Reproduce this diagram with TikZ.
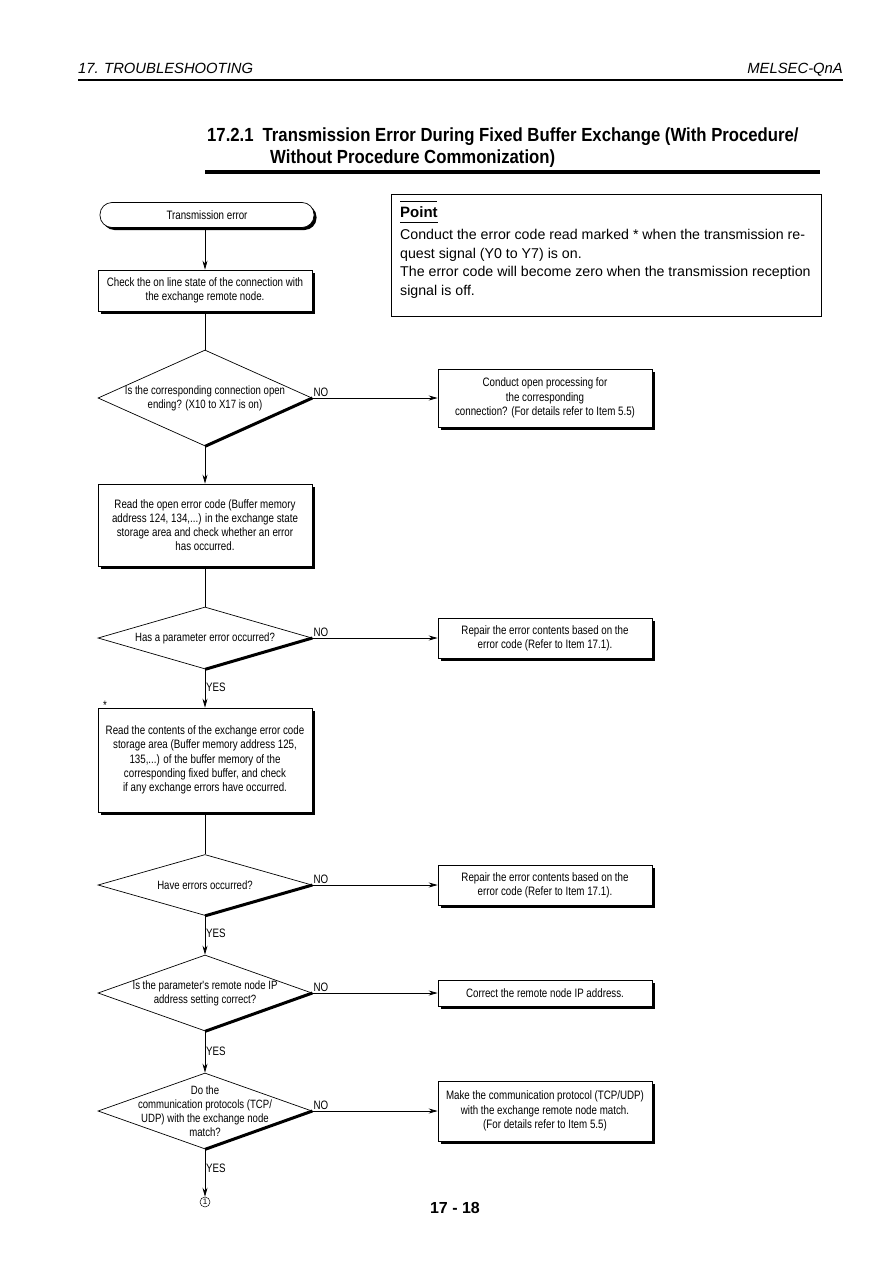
\documentclass[tikz,border=0pt]{standalone}
\usepackage{fontspec}
\setmainfont{Liberation Sans}
\newfontfamily\narrowfont[FakeStretch=0.80]{Liberation Sans}
\newfontfamily\titlefont[FakeStretch=0.88]{Liberation Sans}
\usetikzlibrary{shapes.geometric,arrows.meta,shadows}
\begin{document}
\begin{tikzpicture}[x=1pt,y=-1pt,
  box/.style={draw,line width=0.7pt,fill=white,inner sep=2pt,align=center,
    font=\narrowfont\fontsize{12.2}{14.2}\selectfont,
    drop shadow={shadow xshift=2.5pt,shadow yshift=-2.5pt,opacity=1,fill=black}},
  term/.style={box,rounded corners=12pt},
  dia/.style={draw,line width=0.7pt,diamond,inner sep=0pt},
  dtext/.style={align=center,font=\narrowfont\fontsize{12}{14.2}\selectfont,inner sep=0pt},
  dshadow/.style={line width=3pt},
  arr/.style={line width=0.7pt,-{Stealth[length=9pt,width=5pt]}},
  ln/.style={line width=0.7pt},
  lab/.style={font=\narrowfont\fontsize{12.2}{14}\selectfont,inner sep=1pt}
]
\useasboundingbox (0,0) rectangle (893,1263);
\fill[white] (0,0) rectangle (893,1263);

% header
\node[anchor=base west,inner sep=0,font=\itshape\fontsize{14.8}{16}\selectfont] (hl) at (78,74) {17. TROUBLESHOOTING};
\node[anchor=base east,inner sep=0,font=\itshape\fontsize{14.8}{16}\selectfont] (hr) at (843,74) {MELSEC-QnA};
\draw[line width=1.5pt] (78,80) coordinate (h1) -- (843,80) coordinate (h2);

% title
\node[anchor=base west,inner sep=0,font=\titlefont\bfseries\fontsize{19}{21}\selectfont] (t1) at (207,141) {17.2.1\hspace{9pt}Transmission Error During Fixed Buffer Exchange (With Procedure/};
\node[anchor=base west,inner sep=0,font=\titlefont\bfseries\fontsize{19}{21}\selectfont] (t2) at (270,163) {Without Procedure Commonization)};
\draw[line width=3.5pt] (205,172) coordinate (r1) -- (820,172) coordinate (r2);

% point box
\node[draw,line width=0.8pt,minimum width=430,minimum height=122,anchor=north west,inner sep=0] (pt) at (391,194) {};
\draw[line width=0.6pt] (400,201) coordinate (p1) -- (437,201) coordinate (p2);
\node[anchor=base west,inner sep=0,font=\bfseries\fontsize{15}{16}\selectfont] (ptt) at (400,217) {Point};
\draw[line width=0.8pt] (400,222) coordinate (p3) -- (438,222) coordinate (p4);
\node[anchor=north west,inner sep=0,align=left,font=\fontsize{14.2}{18.7}\selectfont] (ptx) at (400,229)
  {Conduct the error code read marked * when the transmission re-\\
   quest signal (Y0 to Y7) is on.\\
   The error code will become zero when the transmission reception\\
   signal is off.};

% start
\node[term,minimum width=214,minimum height=25] (s) at (207,215) {Transmission error};

% box 1
\node[box,minimum width=214,minimum height=41] (b1) at (205,290.5)
  {Check the on line state of the connection with\\the exchange remote node.};
\draw[arr] (205,228) coordinate (s1) -- (b1.north);

% D1
\node[dia,minimum width=214,minimum height=96] (d1) at (205,398) {};
\node[dtext] (d1t) at (205,398) {Is the corresponding connection open\\ending? (X10 to X17 is on)};
\draw[dshadow] (d1.east) -- (d1.south);
\draw[ln] (b1.south) -- (d1.north);
\node[box,minimum width=214,minimum height=58] (n1) at (545,398)
  {Conduct open processing for\\the corresponding\\connection? (For details refer to Item 5.5)};
\draw[arr] (d1.east) -- (n1.west);
\node[lab,anchor=south west] (no1) at (d1.east) {NO};

% box 2
\node[box,minimum width=214,minimum height=82] (b2) at (205,525)
  {Read the open error code (Buffer memory\\address 124, 134,...) in the exchange state\\storage area and check whether an error\\has occurred.};
\draw[arr] (d1.south) -- (b2.north);

% D2
\node[dia,minimum width=214,minimum height=62] (d2) at (205,638) {};
\node[dtext] (d2t) at (205,638) {Has a parameter error occurred?};
\draw[dshadow] (d2.east) -- (d2.south);
\draw[ln] (b2.south) -- (d2.north);
\node[box,minimum width=214,minimum height=40] (n2) at (545,638)
  {Repair the error contents based on the\\error code (Refer to Item 17.1).};
\draw[arr] (d2.east) -- (n2.west);
\node[lab,anchor=south west] (no2) at (d2.east) {NO};

% box 3
\node[box,minimum width=214,minimum height=104] (b3) at (205,760)
  {Read the contents of the exchange error code\\storage area (Buffer memory address 125,\\135,...) of the buffer memory of the\\corresponding fixed buffer, and check\\if any exchange errors have occurred.};
\draw[arr] (d2.south) -- (b3.north);
\node[lab,anchor=west] (y2) at (205,687) {YES};
\node[lab,anchor=south] (star) at (105,711) {*};

% D3
\node[dia,minimum width=214,minimum height=61] (d3) at (205,885) {};
\node[dtext] (d3t) at (205,885) {Have errors occurred?};
\draw[dshadow] (d3.east) -- (d3.south);
\draw[ln] (b3.south) -- (d3.north);
\node[box,minimum width=214,minimum height=40] (n3) at (545,885)
  {Repair the error contents based on the\\error code (Refer to Item 17.1).};
\draw[arr] (d3.east) -- (n3.west);
\node[lab,anchor=south west] (no3) at (d3.east) {NO};
\node[lab,anchor=west] (y3) at (205,933) {YES};

% D4
\node[dia,minimum width=214,minimum height=76] (d4) at (205,993) {};
\node[dtext] (d4t) at (205,993) {Is the parameter's remote node IP\\address setting correct?};
\draw[dshadow] (d4.east) -- (d4.south);
\draw[arr] (d3.south) -- (d4.north);
\node[box,minimum width=214,minimum height=26] (n4) at (545,993)
  {Correct the remote node IP address.};
\draw[arr] (d4.east) -- (n4.west);
\node[lab,anchor=south west] (no4) at (d4.east) {NO};
\node[lab,anchor=west] (y4) at (205,1051) {YES};

% D5
\node[dia,minimum width=214,minimum height=76] (d5) at (205,1111) {};
\node[dtext] (d5t) at (205,1111) {Do the\\communication protocols (TCP/\\UDP) with the exchange node\\match?};
\draw[dshadow] (d5.east) -- (d5.south);
\draw[arr] (d4.south) -- (d5.north);
\node[box,minimum width=214,minimum height=60] (n5) at (545,1111)
  {Make the communication protocol (TCP/UDP)\\with the exchange remote node match.\\(For details refer to Item 5.5)};
\draw[arr] (d5.east) -- (n5.west);
\node[lab,anchor=south west] (no5) at (d5.east) {NO};
\node[lab,anchor=west] (y5) at (205,1168) {YES};

% connector end
\node[circle,draw,line width=0.5pt,inner sep=0pt,minimum size=10pt,font=\fontsize{8}{8}\selectfont] (c1) at (205,1202) {1};
\draw[arr] (d5.south) -- (c1.north);

% page number
\node[font=\bfseries\fontsize{16}{18}\selectfont,inner sep=0] (pg) at (455,1208) {17 - 18};
\end{tikzpicture}
\end{document}
